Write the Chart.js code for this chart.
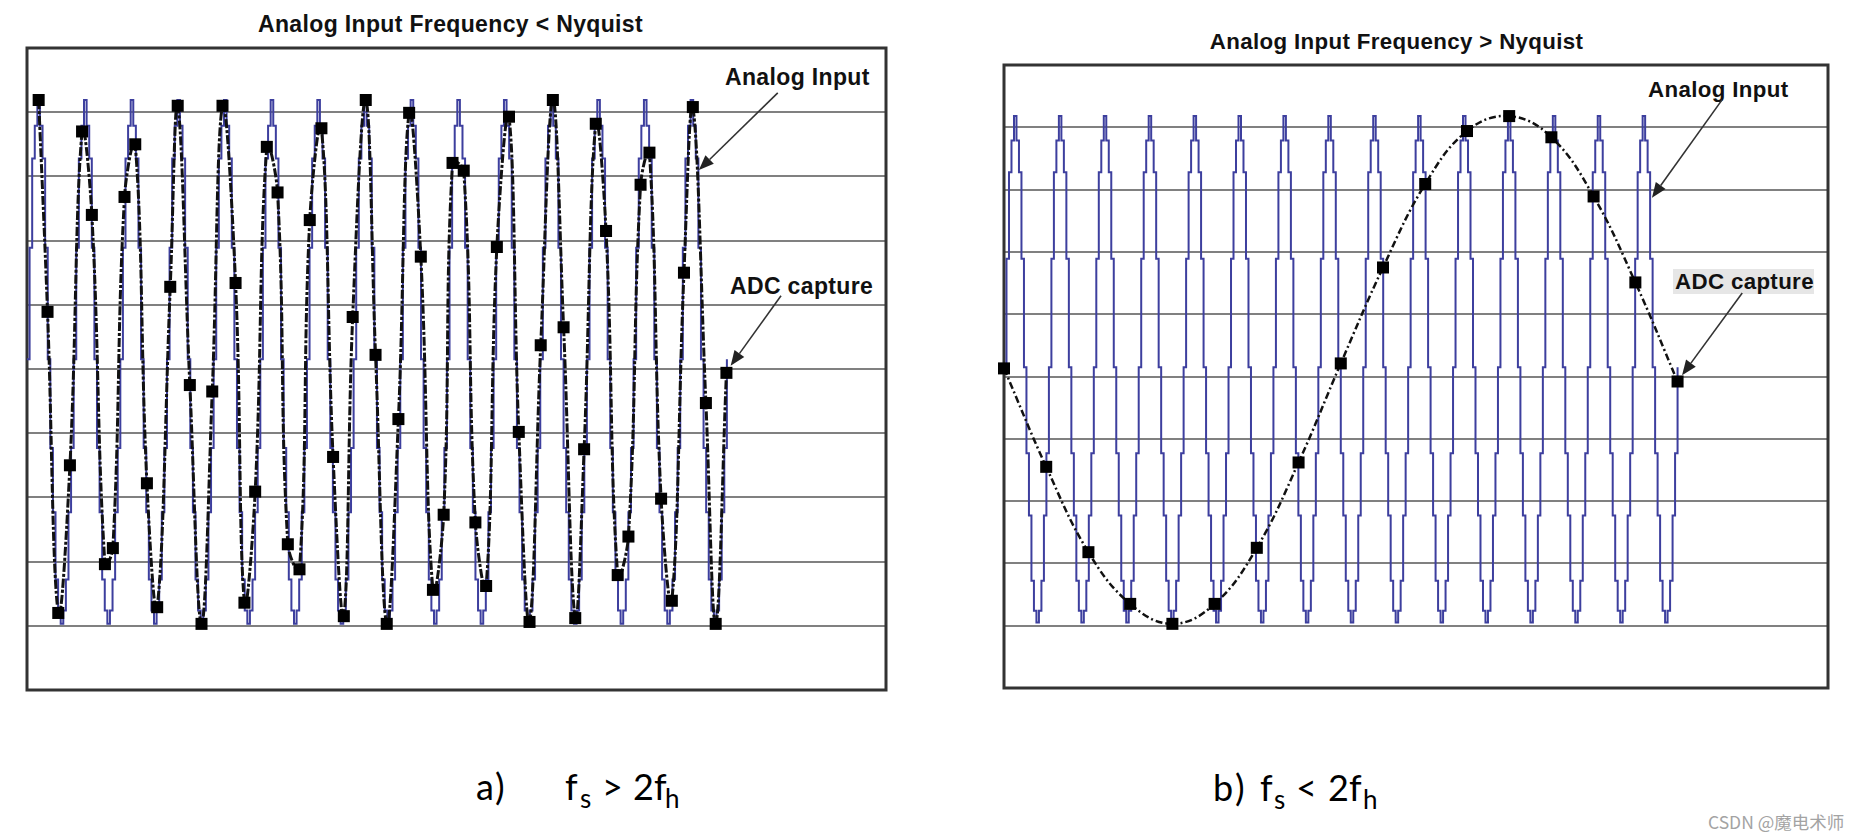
<!DOCTYPE html>
<html>
<head>
<meta charset="utf-8">
<script src="https://cdn.jsdelivr.net/npm/chart.js@4.4.1/dist/chart.umd.min.js"></script>
<style>
  html, body { margin: 0; padding: 0; background: #fff; width: 1859px; height: 838px; overflow: hidden; }
  #labels { position: absolute; left: 0; top: 0; z-index: 0; }
  #c1 { position: absolute; left: 0; top: 0; z-index: 1; }
  #c2 { position: absolute; left: 930px; top: 0; z-index: 1; }
</style>
</head>
<body>
<svg id="labels" width="1859" height="838" xmlns="http://www.w3.org/2000/svg">
  <g font-family="'Liberation Sans', Arial, sans-serif" font-weight="bold" fill="#111">
    <text x="450.5" y="32.3" font-size="23" text-anchor="middle" letter-spacing="0.35">Analog Input Frequency &lt; Nyquist</text>
    <text x="1396.6" y="49.3" font-size="22.3" text-anchor="middle" letter-spacing="0.35">Analog Input Frequency &gt; Nyquist</text>
    <text x="725" y="85" font-size="23" letter-spacing="0.35">Analog Input</text>
    <text x="730" y="293.5" font-size="23" letter-spacing="0.35">ADC capture</text>
    <text x="1648" y="97" font-size="22.3" letter-spacing="0.35">Analog Input</text>
    <rect x="1673" y="269" width="141" height="25" fill="#e6e6e6"></rect>
    <text x="1675" y="289.3" font-size="22.3" letter-spacing="0.35">ADC capture</text>
  </g>
  <g font-family="Lato, 'Open Sans', sans-serif" fill="#000">
    <text x="476" y="800" font-size="36">a</text>
    <text x="495" y="800" font-size="36">)</text>
    <text x="565" y="800" font-size="36">f</text>
    <text x="580" y="808" font-size="26">s</text>
    <text x="602" y="800" font-size="36">&gt;</text>
    <text x="633" y="800" font-size="36">2f</text>
    <text x="665" y="808" font-size="26">h</text>

    <text x="1213" y="801" font-size="36">b</text>
    <text x="1235" y="801" font-size="36">)</text>
    <text x="1260" y="801" font-size="36">f</text>
    <text x="1274" y="809" font-size="26">s</text>
    <text x="1296" y="801" font-size="36">&lt;</text>
    <text x="1328" y="801" font-size="36">2f</text>
    <text x="1363" y="809" font-size="26">h</text>
  </g>
  <text x="1708" y="829" font-size="17.5" fill="#a3a3a3" font-family="'Noto Sans CJK SC', 'Noto Sans', sans-serif">CSDN @魔电术师</text>
</svg>
<canvas id="c1" width="930" height="720"></canvas>
<canvas id="c2" width="929" height="720"></canvas>
<script>
// ---------- data ----------
// x unit = one period of the analog input; y unit = one grid division

// (a) Analog input frequency < Nyquist
const leftCycleStarts = [0, 1, 2, 3, 4, 5, 6, 7, 8, 9, 10, 11, 12, 13, 14];
const leftWaveLevels = [5.15, 6.89, 8.28, 8.79, 9.19, 8.79, 8.28, 6.89, 5.15, 3.77, 2.77, 1.72, 1.24, 1.03, 1.24, 1.72, 2.77, 3.77];
const leftSampleTimes = [0.25, 0.44, 0.67, 0.92, 1.18, 1.39, 1.67, 1.84, 2.09, 2.32, 2.57, 2.79, 3.07, 3.23, 3.49, 3.74,
  3.97, 4.19, 4.47, 4.66, 4.89, 5.14, 5.37, 5.59, 5.84, 6.06, 6.31, 6.56, 6.79, 6.98, 7.26, 7.47,
  7.71, 7.96, 8.19, 8.44, 8.70, 8.93, 9.12, 9.36, 9.61, 9.84, 10.07, 10.33, 10.54, 10.77, 11.01, 11.27,
  11.50, 11.75, 11.94, 12.19, 12.41, 12.66, 12.89, 13.15, 13.34, 13.59, 13.82, 14.08, 14.27, 14.55, 14.76, 14.99];
const leftSampleValues = [9.19, 5.89, 1.20, 3.50, 8.70, 7.40, 1.96, 2.21, 7.68, 8.50, 3.22, 1.29, 6.28, 9.10, 4.75, 1.03,
  4.65, 9.10, 6.34, 1.36, 3.09, 8.46, 7.75, 2.27, 1.88, 7.32, 8.75, 3.63, 1.15, 5.81, 9.19, 5.22,
  1.03, 4.22, 8.99, 6.75, 1.56, 2.73, 8.21, 8.09, 2.61, 1.62, 6.90, 8.93, 4.02, 1.06, 5.37, 9.19,
  5.65, 1.12, 3.75, 8.82, 7.15, 1.79, 2.39, 7.87, 8.37, 2.98, 1.39, 6.50, 9.08, 4.47, 1.03, 4.94];

// (b) Analog input frequency > Nyquist
const rightCycleStarts = [0, 1, 2, 3, 4, 5, 6, 7, 8, 9, 10, 11, 12, 13, 14];
const rightWaveLevels = [5.15, 6.89, 8.28, 8.79, 9.18, 8.79, 8.28, 6.89, 5.15, 3.77, 2.77, 1.72, 1.24, 1.05, 1.24, 1.72, 2.77, 3.77];
const rightSampleTimes = [0, 0.94, 1.88, 2.81, 3.75, 4.69, 5.63, 6.56, 7.5, 8.44, 9.38, 10.31, 11.25, 12.19, 13.13, 14.06, 15.0];
const rightSampleValues = [5.13, 3.55, 2.18, 1.35, 1.03, 1.35, 2.25, 3.62, 5.21, 6.75, 8.09, 8.94, 9.18, 8.84, 7.89, 6.51, 4.92];

const gridDivisions = [0, 10];

// ---------- helpers ----------
function wavePoints(starts, levels) {
  const pts = [];
  const n = levels.length;
  starts.forEach(s => levels.forEach((v, k) => pts.push({ x: s + k / n, y: v })));
  pts.push({ x: starts[starts.length - 1] + 1, y: levels[0] });
  return pts;
}
function samplePoints(times, values) {
  return times.map((t, i) => ({ x: t, y: values[i] }));
}

const boxPlugin = {
  id: 'box',
  beforeDatasetsDraw(chart) {
    const { ctx, chartArea: a } = chart;
    ctx.save();
    ctx.strokeStyle = '#333';
    ctx.lineWidth = 3;
    ctx.strokeRect(a.left, a.top, a.right - a.left, a.bottom - a.top);
    ctx.restore();
  }
};
const arrowPlugin = {
  id: 'arrows',
  afterDatasetsDraw(chart, args, opts) {
    const { ctx } = chart;
    const xs = chart.scales.x, ys = chart.scales.y;
    ctx.save();
    (opts.list || []).forEach(ar => {
      const x1 = xs.getPixelForValue(ar.from[0]), y1 = ys.getPixelForValue(ar.from[1]);
      const x2 = xs.getPixelForValue(ar.to[0]), y2 = ys.getPixelForValue(ar.to[1]);
      const ang = Math.atan2(y2 - y1, x2 - x1);
      const L = 15, W = 6;
      const bx = x2 - L * Math.cos(ang), by = y2 - L * Math.sin(ang);
      ctx.strokeStyle = '#333';
      ctx.lineWidth = 1.6;
      ctx.beginPath(); ctx.moveTo(x1, y1); ctx.lineTo(bx, by); ctx.stroke();
      ctx.fillStyle = '#222';
      ctx.beginPath();
      ctx.moveTo(x2, y2);
      ctx.lineTo(bx + W * Math.sin(ang), by - W * Math.cos(ang));
      ctx.lineTo(bx - W * Math.sin(ang), by + W * Math.cos(ang));
      ctx.closePath(); ctx.fill();
    });
    ctx.restore();
  }
};

function makeChart(id, cfg) {
  return new Chart(document.getElementById(id), {
    type: 'line',
    data: {
      datasets: [
        {
          label: 'ADC capture',
          data: samplePoints(cfg.times, cfg.values),
          borderColor: '#111',
          borderWidth: cfg.captureWidth,
          borderDash: cfg.captureDash,
          tension: 0.4,
          pointStyle: 'rect',
          pointRadius: 8.5,
          pointBackgroundColor: '#000',
          pointBorderWidth: 0,
          clip: false,
          fill: false,
          order: 0
        },
        {
          label: 'Analog Input',
          data: wavePoints(cfg.starts, cfg.levels),
          borderColor: '#3d3f9e',
          borderWidth: 2,
          stepped: true,
          pointRadius: 0,
          fill: false,
          order: 1
        }
      ]
    },
    options: {
      responsive: false,
      animation: false,
      devicePixelRatio: 1,
      layout: { padding: cfg.padding },
      plugins: {
        legend: { display: false },
        tooltip: { enabled: false },
        title: { display: false },
        arrows: { list: cfg.arrows }
      },
      scales: {
        x: { type: 'linear', min: 0, max: cfg.xMax, display: false },
        y: {
          type: 'linear', min: gridDivisions[0], max: gridDivisions[1],
          ticks: { display: false, stepSize: 1 },
          grid: { color: '#808080', lineWidth: 2, drawTicks: false },
          border: { display: false }
        }
      }
    },
    plugins: [boxPlugin, arrowPlugin]
  });
}

makeChart('c1', {
  starts: leftCycleStarts, levels: leftWaveLevels,
  times: leftSampleTimes, values: leftSampleValues,
  xMax: 18.41,
  padding: { left: 27, top: 48, right: 44, bottom: 30 },
  captureWidth: 3, captureDash: [9, 2, 3, 2],
  arrows: [
    { from: [16.09, 9.30], to: [14.40, 8.10] },
    { from: [16.16, 6.14], to: [15.08, 5.05] }
  ]
});
makeChart('c2', {
  starts: rightCycleStarts, levels: rightWaveLevels,
  times: rightSampleTimes, values: rightSampleValues,
  xMax: 18.35,
  padding: { left: 74, top: 65, right: 31, bottom: 32 },
  captureWidth: 2.5, captureDash: [7, 3, 2, 3],
  arrows: [
    { from: [15.99, 9.44], to: [14.43, 7.87] },
    { from: [16.44, 6.34], to: [15.10, 5.02] }
  ]
});
</script>
</body>
</html>
